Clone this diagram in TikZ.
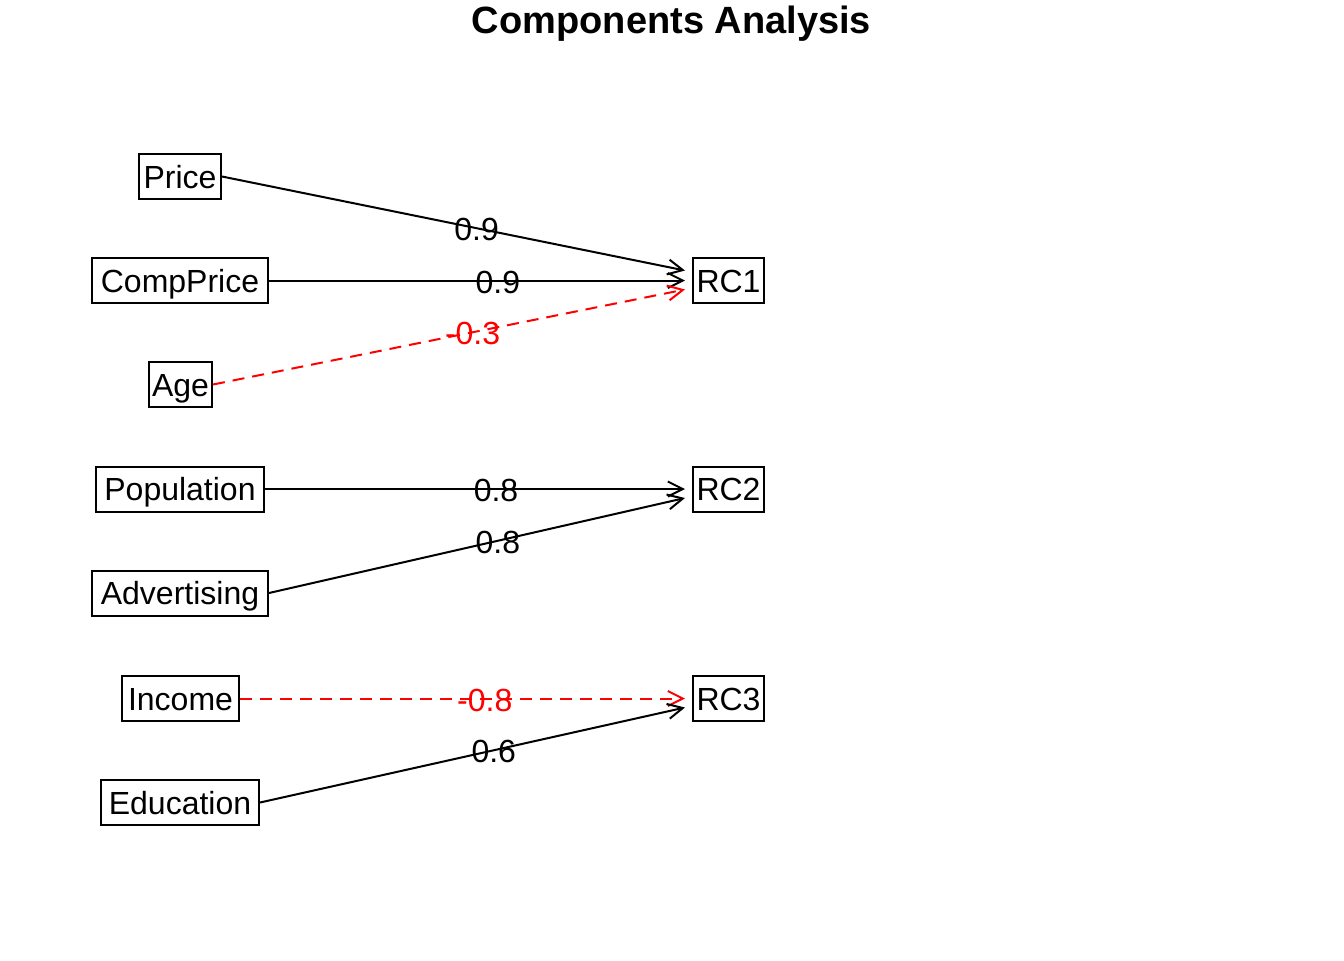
\documentclass[tikz,border=0pt]{standalone}
\usepackage{fontspec}
\setmainfont{Liberation Sans}
\usetikzlibrary{arrows.meta}
\begin{document}
\begin{tikzpicture}[x=0.5pt,y=-0.5pt,
  var/.style={draw,line width=1pt,minimum height=22.5pt,inner sep=0pt,
    text height=11.5pt,text depth=0pt,font=\fontsize{16}{18}\selectfont},
  edge/.style={line width=1pt,-{Straight Barb[length=7.5pt,width=7.5pt]}},
  neg/.style={edge,red,dash pattern=on 6pt off 4pt},
  lab/.style={font=\fontsize{16}{18}\selectfont,inner sep=0pt,
    text height=11.5pt,text depth=0pt,pos=0.55,yshift=-0.5pt}]
\useasboundingbox (0,0) rectangle (1344,960);
\node[font=\fontsize{19}{22}\selectfont\bfseries,anchor=base] (title) at (671.5,33) {Components Analysis};
% observed variables
\node[var,minimum width=41pt] (Price) at (180,176.5) {Price};
\node[var,minimum width=88pt] (CompPrice) at (180,280.5) {CompPrice};
\node[var,minimum width=31.5pt] (Age) at (180.5,384.5) {Age};
\node[var,minimum width=84pt] (Population) at (180,489) {Population};
\node[var,minimum width=88pt] (Advertising) at (180,593) {Advertising};
\node[var,minimum width=58.5pt] (Income) at (180.5,698.5) {Income};
\node[var,minimum width=79pt] (Education) at (180,802.5) {Education};
% components
\node[var,minimum width=35.5pt] (RC1) at (728.5,280.5) {RC1};
\node[var,minimum width=35.5pt] (RC2) at (728.5,489) {RC2};
\node[var,minimum width=35.5pt] (RC3) at (728.5,698.5) {RC3};
% loadings
\draw[edge] (Price.east) -- node[lab] {0.9} ([shift={(-7,-10)}]RC1.west);
\draw[edge] (CompPrice.east) -- node[lab] {0.9} ([shift={(-7,0)}]RC1.west);
\draw[neg] (Age.east) -- node[lab] {-0.3} ([shift={(-7,9)}]RC1.west);
\draw[edge] (Population.east) -- node[lab] {0.8} ([shift={(-7,0)}]RC2.west);
\draw[edge] (Advertising.east) -- node[lab] {0.8} ([shift={(-7,9)}]RC2.west);
\draw[neg] (Income.east) -- node[lab] {-0.8} ([shift={(-7,0)}]RC3.west);
\draw[edge] (Education.east) -- node[lab] {0.6} ([shift={(-7,9)}]RC3.west);
\end{tikzpicture}
\end{document}
